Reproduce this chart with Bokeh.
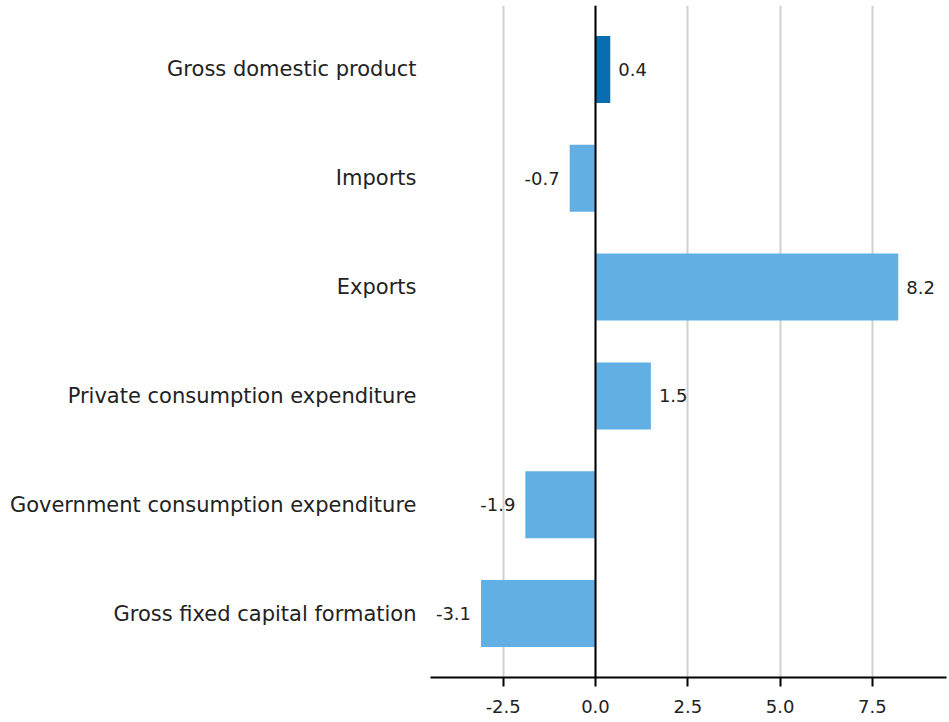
from bokeh.plotting import figure
from bokeh.models import ColumnDataSource, FactorRange, Range1d, FixedTicker, PrintfTickFormatter, Span
from bokeh.core.properties import value
from bokeh.embed import file_html
from bokeh.resources import INLINE

categories = ["Gross domestic product", "Imports", "Exports",
              "Private consumption expenditure", "Government consumption expenditure",
              "Gross fixed capital formation"]
values = [0.4, -0.7, 8.2, 1.5, -1.9, -3.1]
colors = ["#0a6db0", "#62b0e3", "#62b0e3", "#62b0e3", "#62b0e3", "#62b0e3"]
x_ticks = [-2.5, 0.0, 2.5, 5.0, 7.5]

FONT = "DejaVu Sans"

factors = list(reversed(categories))
p = figure(frame_width=516, frame_height=672, output_backend="svg", toolbar_location=None,
           y_range=FactorRange(factors=factors, range_padding=0.0875, range_padding_units="absolute"),
           x_range=Range1d(-4.469, 9.507),
           min_border_left=430, min_border_right=3, min_border_top=5, min_border_bottom=45)
p.outline_line_color = None
p.background_fill_color = "white"
p.border_fill_color = "white"

src = ColumnDataSource(dict(cat=categories, val=values, color=colors))
p.hbar(y="cat", left=0, right="val", height=0.615, fill_color="color", line_color=None, source=src)

pos = ColumnDataSource(dict(cat=[c for c, v in zip(categories, values) if v >= 0],
                            val=[v for v in values if v >= 0],
                            label=["%.1f" % v for v in values if v >= 0]))
neg = ColumnDataSource(dict(cat=[c for c, v in zip(categories, values) if v < 0],
                            val=[v for v in values if v < 0],
                            label=["%.1f" % v for v in values if v < 0]))
p.text(x="val", y="cat", text="label", source=pos, text_align="left", text_baseline="middle",
       x_offset=8, text_font=value(FONT), text_font_size="18px", text_color="#222222")
p.text(x="val", y="cat", text="label", source=neg, text_align="right", text_baseline="middle",
       x_offset=-10, text_font=value(FONT), text_font_size="18px", text_color="#222222")

p.add_layout(Span(location=0, dimension="height", line_color="black", line_width=2))

p.xaxis.ticker = FixedTicker(ticks=x_ticks)
p.xaxis.formatter = PrintfTickFormatter(format="%.1f")
p.xaxis.axis_line_color = "black"
p.xaxis.axis_line_width = 2
p.xaxis.major_tick_line_color = "black"
p.xaxis.major_tick_line_width = 2
p.xaxis.major_tick_out = 9
p.xaxis.major_tick_in = 0
p.xaxis.minor_tick_line_color = None
p.xaxis.major_label_standoff = 13
p.xaxis.major_label_text_font = FONT
p.xaxis.major_label_text_font_size = "18px"
p.xaxis.major_label_text_color = "#222222"

p.yaxis.axis_line_color = None
p.yaxis.major_tick_line_color = None
p.yaxis.minor_tick_line_color = None
p.yaxis.major_label_standoff = 8
p.yaxis.major_label_text_font = FONT
p.yaxis.major_label_text_font_size = "21px"
p.yaxis.major_label_text_color = "#222222"

p.xgrid.ticker = FixedTicker(ticks=x_ticks)
p.xgrid.grid_line_color = "#d0d0d0"
p.xgrid.grid_line_width = 2
p.ygrid.grid_line_color = None

open("out.html", "w").write(file_html(p, INLINE))
